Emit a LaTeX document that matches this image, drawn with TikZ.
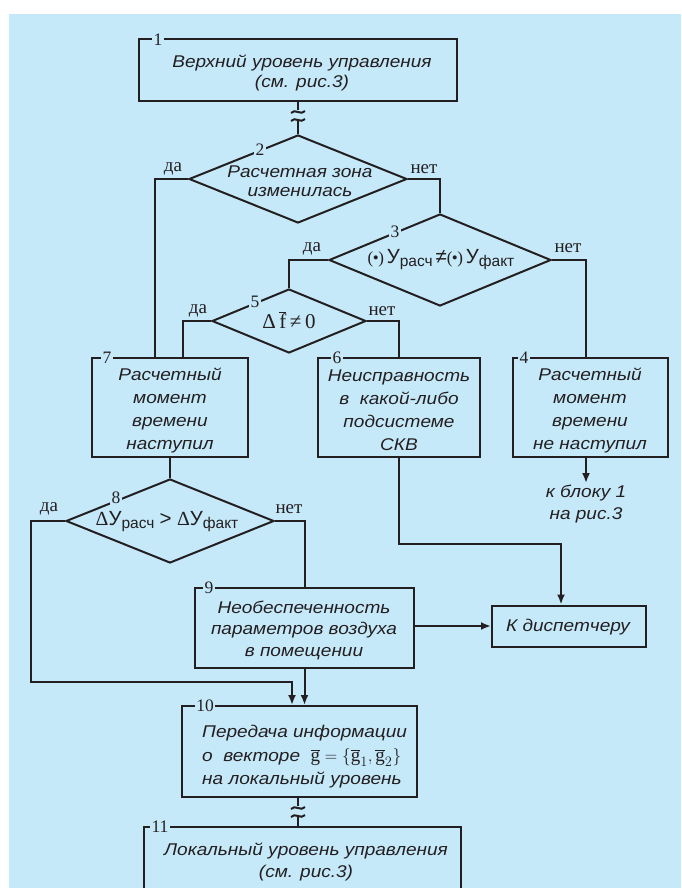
\documentclass[tikz,border=0pt]{standalone}
\usepackage{fontspec}
\setmainfont{Liberation Serif}
\newfontfamily\sansf[FakeStretch=1.12]{Liberation Sans}
\newfontfamily\sansu{Liberation Sans}
\usetikzlibrary{shapes.geometric,arrows.meta}
\definecolor{bg}{RGB}{198,233,250}
\definecolor{ink}{RGB}{35,31,32}
\newcommand\ufs[1]{{\sansu\upshape\fontsize{20.5}{20.5}\selectfont #1}}
\newcommand\usub[1]{{\sansu\upshape\fontsize{15.5}{15.5}\selectfont\raisebox{-3pt}{#1}}}
\newcommand\dpar{{\rmfamily\upshape\fontsize{17}{17}\selectfont(\kern-0.5pt•\kern-0.5pt)}}
\newcommand\rdelta{{\rmfamily\upshape\fontsize{20}{20}\selectfont Δ}}
\begin{document}
\begin{tikzpicture}[x=1pt,y=-1pt,
  every node/.style={text=ink},
  ln/.style={draw=ink,line width=2pt},
  arr/.style={draw=ink,line width=2pt,-{Latex[length=10pt,width=8pt]}},
  tx/.style={font=\sansf\itshape\fontsize{17}{21.5}\selectfont},
  box/.style={draw=ink,line width=2pt,rectangle,inner sep=0pt},
  dia/.style={draw=ink,line width=2pt,diamond,inner sep=0pt},
  dtx/.style={inner sep=0pt,align=center,tx},
  num/.style={fill=bg,inner sep=1.5pt,font=\rmfamily\fontsize{17.5}{17.5}\selectfont},
  yn/.style={inner sep=0pt,font=\rmfamily\fontsize{19}{19}\selectfont},
]
\path[use as bounding box] (0,0) rectangle (681,888);
\clip (0,0) rectangle (681,888);
\fill[white] (0,0) rectangle (681,888);
\fill[bg] (9,14) rectangle (681,888);

% boxes and decisions
\node[box,minimum width=318,minimum height=62] (b1) at (298,70) {};
\node[dtx,font=\sansf\itshape\fontsize{17}{20}\selectfont] (t1) at (302,73) {Верхний уровень управления\\(см. рис.3)};
\node[dia,minimum width=218,minimum height=88] (d2) at (298,179) {};
\node[dtx,font=\sansf\itshape\fontsize{17}{19.5}\selectfont] (t2) at (300,181) {Расчетная зона\\изменилась};
\node[dia,minimum width=222,minimum height=92] (d3) at (440,260) {};
\node[dtx] (t3) at (441,260) {\dpar\,\ufs{У}\usub{расч}\,\ufs{≠}\dpar\,\ufs{У}\usub{факт}};
\node[dia,minimum width=154,minimum height=64] (d5) at (289,321) {};
\node[dtx,font=\rmfamily\upshape\fontsize{21}{21}\selectfont] (t5) at (289,320) {Δ\,$\overline{\mbox{f}}$\,≠\,0};
\node[box,minimum width=156,minimum height=99] (b7) at (170,407.5) {};
\node[dtx,font=\sansf\itshape\fontsize{17}{23}\selectfont] (t7) at (170,410) {Расчетный\\момент\\времени\\наступил};
\node[box,minimum width=162,minimum height=99] (b6) at (399,407.5) {};
\node[dtx,font=\sansf\itshape\fontsize{17}{23}\selectfont] (t6) at (399,410) {Неисправность\\в\ \ какой-либо\\подсистеме\\СКВ};
\node[box,minimum width=155,minimum height=99] (b4) at (590.5,407.5) {};
\node[dtx,font=\sansf\itshape\fontsize{17}{23}\selectfont] (t4) at (590,410) {Расчетный\\момент\\времени\\не наступил};
\node[dtx] (kb) at (586,504) {к блоку 1\\на рис.3};
\node[dia,minimum width=208,minimum height=84] (d8) at (170,521) {};
\node[dtx] (t8) at (167,522) {\rdelta\ufs{У}\usub{расч}\ \ufs{>}\ \rdelta\ufs{У}\usub{факт}};
\node[box,minimum width=219,minimum height=80] (b9) at (304.5,628) {};
\node[dtx] (t9) at (304,630) {Необеспеченность\\параметров воздуха\\в помещении};
\node[box,minimum width=154,minimum height=41] (disp) at (569,626) {};
\node[dtx] (td) at (568,627) {К диспетчеру};
\node[box,minimum width=235,minimum height=91] (b10) at (299.5,751.5) {};
\node[dtx,align=left,anchor=west,font=\sansf\itshape\fontsize{17}{23.5}\selectfont] (t10) at (202,757) {Передача информации\\о\ \ векторе\ \ {\upshape\fontsize{19}{19}\selectfont$\overline{\mathrm{g}}=\{\overline{\mathrm{g}}_1,\overline{\mathrm{g}}_2\}$}\\на локальный уровень};
\node[box,minimum width=317,minimum height=80] (b11) at (302.5,867) {};
\node[dtx,font=\sansf\itshape\fontsize{17}{22}\selectfont] (t11) at (306,862) {Локальный уровень управления\\(см. рис.3)};

% numbers
\node[num] (n1) at (158,40) {1};
\node[num] (n2) at (260,150) {2};
\node[num] (n3) at (395,232) {3};
\node[num] (n5) at (255,302) {5};
\node[num] (n7) at (107,358) {7};
\node[num] (n6) at (337,358) {6};
\node[num] (n4) at (524,358) {4};
\node[num] (n8) at (116,498) {8};
\node[num] (n9) at (209,588) {9};
\node[num] (n10) at (205,706) {10};
\node[num] (n11) at (160,827) {11};

% yes / no
\node[yn] (y2) at (173,169) {да};
\node[yn] (no2) at (424,169) {нет};
\node[yn] (y3) at (312,249) {да};
\node[yn] (no3) at (568,248) {нет};
\node[yn] (y5) at (198,311) {да};
\node[yn] (no5) at (382,311) {нет};
\node[yn] (y8) at (49,509) {да};
\node[yn] (no8) at (289,509) {нет};

% connectors
\draw[ln] (b1.south) -- ++(0,8);
\draw[ln] ([xshift=-7pt,yshift=-11pt]b1.south) .. controls ([xshift=-3pt,yshift=-6pt]b1.south) and ([xshift=3pt,yshift=-14pt]b1.south) .. ([xshift=7pt,yshift=-9pt]b1.south);
\draw[ln] ([xshift=-7pt,yshift=-19pt]b1.south) .. controls ([xshift=-3pt,yshift=-14pt]b1.south) and ([xshift=3pt,yshift=-22pt]b1.south) .. ([xshift=7pt,yshift=-17pt]b1.south);
\draw[ln] ([yshift=-19pt]b1.south) -- (d2.north);

\draw[ln] (d2.west) -| ([xshift=64pt]b7.north west);
\draw[ln] (d2.east) -| (d3.north);
\draw[ln] (d3.west) -| (d5.north);
\draw[ln] (d3.east) -| ([xshift=-4.5pt]b4.north);
\draw[ln] (d5.west) -| ([xshift=92pt]b7.north west);
\draw[ln] (d5.east) -| (b6.north);
\draw[arr] ([xshift=-4.5pt]b4.south) -- ([yshift=2pt]kb.north);
\draw[ln] (b7.south) -- (d8.north);
\draw[arr] (d8.west) -- ++(-34,0) |- ([xshift=-7.5pt,yshift=23pt]b10.north) -- ([xshift=-7.5pt]b10.north);
\draw[ln] (d8.east) -| (b9.north);
\draw[arr] (b9.south) -- (b9.south |- b10.north);
\draw[arr] (b9.east |- disp.west) -- (disp.west);
\draw[arr] (b6.south) -- ++(0,86) -| ([xshift=-8pt]disp.north);

\draw[ln] ([xshift=-1.5pt]b10.south) -- ++(0,8);
\draw[ln] ([xshift=-8.5pt,yshift=-11pt]b10.south) .. controls ([xshift=-4.5pt,yshift=-6pt]b10.south) and ([xshift=1.5pt,yshift=-14pt]b10.south) .. ([xshift=5.5pt,yshift=-9pt]b10.south);
\draw[ln] ([xshift=-8.5pt,yshift=-19pt]b10.south) .. controls ([xshift=-4.5pt,yshift=-14pt]b10.south) and ([xshift=1.5pt,yshift=-22pt]b10.south) .. ([xshift=5.5pt,yshift=-17pt]b10.south);
\draw[ln] ([xshift=-1.5pt,yshift=-19pt]b10.south) -- ([xshift=-1.5pt]b10.south |- b11.north);
\end{tikzpicture}
\end{document}
